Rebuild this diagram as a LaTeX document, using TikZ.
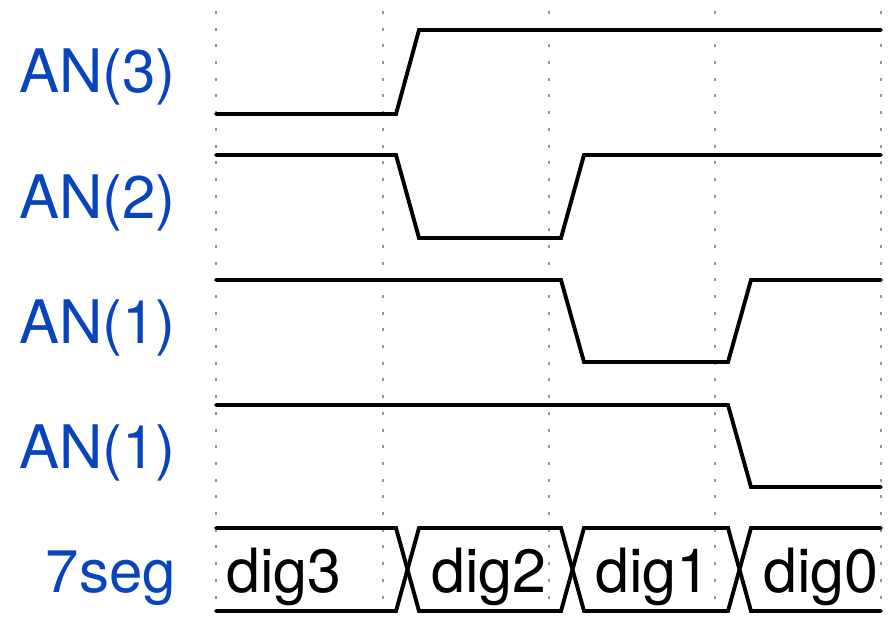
\documentclass[tikz,border=0pt]{standalone}
\usepackage{fontspec}
\setmainfont{TeX Gyre Heros}
\definecolor{sigblue}{RGB}{8,68,190}
\definecolor{gridgray}{RGB}{150,150,150}
\begin{document}
\begin{tikzpicture}[x=1pt,y=-1pt,
  wave/.style={line width=3.9pt,line cap=round,line join=miter,black},
  grid/.style={line width=1.8pt,gridgray,dash pattern=on 3pt off 13.7pt},
  siglabel/.style={anchor=base east,inner sep=0pt,text=sigblue,font=\fontsize{60}{72}\selectfont},
  buslabel/.style={anchor=base,inner sep=0pt,text=black,font=\fontsize{61}{72}\selectfont}]
\useasboundingbox (0,0) rectangle (891,623);

% time grid
\foreach \x in {216,383,549,715,881}
  \draw[grid] (\x,11) -- (\x,611);

% signal names
\node[siglabel] (l3) at (176,93) {AN(3)};
\node[siglabel] (l2) at (176,218) {AN(2)};
\node[siglabel] (l1) at (176,343) {AN(1)};
\node[siglabel] (l0) at (176,468) {AN(1)};
\node[siglabel] (ls) at (176,592) {7seg};

% anode enable waveforms
\draw[wave] (216,114) -- (396,114) -- (419,30) -- (881,30);
\draw[wave] (216,155) -- (396,155) -- (419,238) -- (561,238) -- (584,155) -- (881,155);
\draw[wave] (216,280) -- (561,280) -- (584,362) -- (728,362) -- (751,280) -- (881,280);
\draw[wave] (216,405) -- (728,405) -- (751,487) -- (881,487);

% segment bus
\draw[wave] (216,528) -- (396,528) -- (419,611) -- (561,611) -- (584,528) -- (728,528) -- (751,611) -- (881,611);
\draw[wave] (216,611) -- (396,611) -- (419,528) -- (561,528) -- (584,611) -- (728,611) -- (751,528) -- (881,528);

\node[buslabel] (d3) at (284,592) {dig3};
\node[buslabel] (d2) at (489,592) {dig2};
\node[buslabel] (d1) at (653,592) {dig1};
\node[buslabel] (d0) at (821,592) {dig0};
\end{tikzpicture}
\end{document}
